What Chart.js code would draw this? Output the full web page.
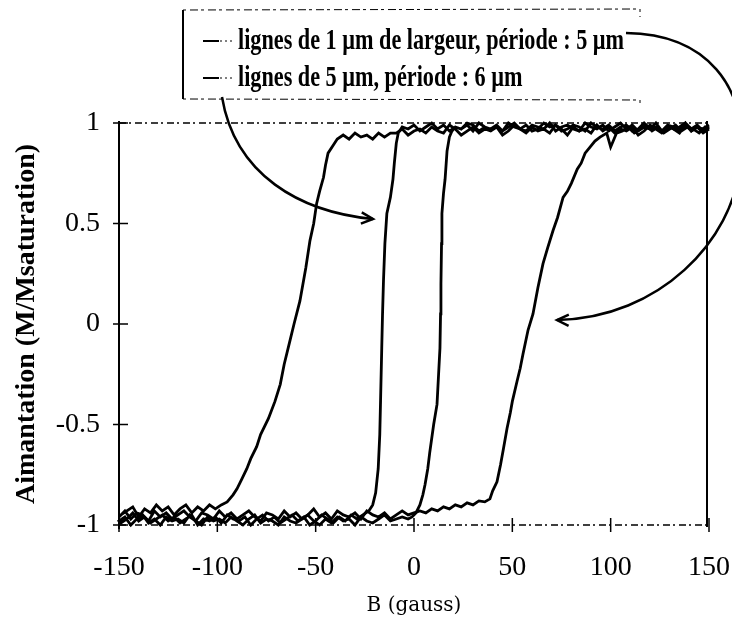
<!DOCTYPE html>
<html lang="fr">
<head>
  <meta charset="UTF-8">
  <title>Aimantation</title>
  <style>
    body { margin: 0; padding: 0; background: #fff; }
    #wrap { width: 732px; height: 632px; }
  </style>
  <script src="https://cdn.jsdelivr.net/npm/chart.js"></script>
</head>
<body>
  <div id="wrap">
    <canvas id="loopChart" width="732" height="632"></canvas>
  </div>
  <script>
    const seriesLabels = [
      'lignes de 1 µm de largeur, période : 5 µm',
      'lignes de 5 µm, période : 6 µm'
    ];
    const xTicks = [-150, -100, -50, 0, 50, 100, 150];
    const yTicks = [-1, -0.5, 0, 0.5, 1];

    // 1 µm lines: field going down (150 -> -150)
    const narrowDownB = [
      150,147,144,141,138,135,132,129,126,123,120,117,114,111,108,105,102,99,96,93,
      90,87,84,81,78,75,72,69,66,63,60,57,54,51,48,45,42,39,36,33,
      30,27,24,21,18,15,12,9,6,3,0,-3,-6,
      -8,-9,-10,-10.7,-12,-13.8,-14.8,-15.5,-16,-16.4,-17,-17.4,-18.2,-19.5,-21,-23,-26,
      -29,-32,-35,-38,-41,-44,-47,-50,-53,-56,-59,-62,-65,-68,-71,-74,-77,-80,-83,-86,
      -89,-92,-95,-98,-101,-104,-107,-110,-113,-116,-119,-122,-125,-128,-131,-134,-137,-140,-143,-146,-149
    ];
    const narrowDownM = [
      0.98,0.96,0.99,0.97,1.0,0.96,0.98,0.99,0.96,0.98,0.97,1.0,0.97,0.96,0.99,0.98,0.96,0.99,0.97,0.98,
      1.0,0.96,0.98,0.99,0.97,0.96,0.99,0.98,1.0,0.97,0.96,0.99,0.97,0.98,1.0,0.96,0.99,0.97,0.98,0.96,
      0.99,1.0,0.97,0.98,0.96,0.99,0.97,1.0,0.98,0.96,0.99,0.97,0.98,
      0.95,0.9,0.8,0.72,0.63,0.55,0.4,0.22,0.05,-0.12,-0.38,-0.55,-0.72,-0.84,-0.9,-0.93,-0.95,
      -0.97,-0.95,-0.98,-0.96,-0.99,-0.97,-0.95,-0.98,-1.0,-0.96,-0.98,-0.95,-0.97,-0.99,-0.96,-0.98,-0.95,-0.97,-1.0,-0.96,
      -0.98,-0.97,-0.95,-0.99,-0.96,-0.98,-0.97,-1.0,-0.95,-0.97,-0.99,-0.96,-0.98,-0.95,-0.97,-0.99,-0.96,-0.98,-0.94,-0.97,-0.99
    ];
    // 1 µm lines: field going up (-150 -> 150)
    const narrowUpB = [
      -150,-147,-144,-141,-138,-135,-132,-129,-126,-123,-120,-117,-114,-111,-108,-105,-102,-99,-96,-93,
      -90,-87,-84,-81,-78,-75,-72,-69,-66,-63,-60,-57,-54,-51,-48,-45,-42,-39,-36,-33,
      -30,-27,-24,-21,-18,-15,-12,-9,-6,-3,
      -1,1,3,4.5,5.6,7,8,10,11.7,12.5,13.2,13.5,13.7,14,14.2,15,15.8,16.8,18,19.3,21,
      24,27,30,33,36,39,42,45,48,51,54,57,60,63,66,69,72,75,78,81,
      84,87,90,93,96,99,102,105,108,111,114,117,120,123,126,129,132,135,138,141,144,147,150
    ];
    const narrowUpM = [
      -0.98,-0.96,-1.0,-0.97,-0.95,-0.99,-0.97,-1.0,-0.96,-0.98,-0.97,-0.99,-0.95,-0.98,-1.0,-0.96,-0.98,-0.97,-0.99,-0.96,
      -0.98,-1.0,-0.97,-0.95,-0.99,-0.97,-0.98,-1.0,-0.96,-0.98,-0.99,-0.97,-0.95,-0.98,-1.0,-0.97,-0.99,-0.96,-0.98,-0.97,
      -1.0,-0.96,-0.98,-0.99,-0.97,-0.95,-0.98,-0.97,-0.96,-0.97,
      -0.96,-0.94,-0.9,-0.85,-0.8,-0.72,-0.64,-0.5,-0.4,-0.25,-0.12,0.05,0.2,0.4,0.55,0.65,0.72,0.86,0.93,0.96,0.98,
      0.97,0.99,0.96,1.0,0.98,0.97,0.99,0.96,0.98,1.0,0.97,0.96,0.99,0.98,0.97,1.0,0.96,0.98,0.99,0.97,
      0.96,1.0,0.98,0.97,0.99,0.96,0.98,1.0,0.97,0.99,0.96,0.98,0.97,1.0,0.96,0.99,0.97,0.98,1.0,0.96,0.98,0.97,0.99
    ];
    // 5 µm lines: field going down
    const wideDownB = [
      150,147,144,141,138,135,132,129,126,123,120,117,114,111,108,105,102,99,96,93,
      90,87,84,81,78,75,72,69,66,63,60,57,54,51,48,45,42,39,36,33,
      30,27,24,21,18,15,12,9,6,3,0,-3,-6,-9,
      -12,-15,-18,-21,-24,-27,-30,-33,-36,-39,-41,-43.7,-45,-46,-48,-49.5,-51,-52.9,-55,-58,
      -61,-63,-66,-68,-70.7,-74,-78,-80,-83,-85,-87.5,-90,-92,-95,-98,
      -101,-104,-107,-110,-113,-116,-119,-122,-125,-128,-131,-134,-137,-140,-143,-146,-149
    ];
    const wideDownM = [
      0.97,0.95,0.98,0.96,0.99,0.95,0.97,0.98,0.95,0.97,0.99,0.96,0.94,0.98,0.96,0.97,0.95,0.98,0.96,0.99,
      0.95,0.97,0.96,0.98,0.94,0.97,0.99,0.95,0.97,0.96,0.98,0.95,0.97,0.99,0.96,0.94,0.98,0.96,0.97,0.95,
      0.98,0.96,0.94,0.97,0.99,0.95,0.96,0.98,0.95,0.97,0.96,0.94,0.97,0.95,
      0.95,0.93,0.95,0.92,0.94,0.93,0.95,0.92,0.94,0.92,0.89,0.85,0.79,0.73,0.66,0.6,0.5,0.415,0.28,0.115,
      0,-0.08,-0.2,-0.3,-0.385,-0.47,-0.55,-0.61,-0.67,-0.72,-0.77,-0.82,-0.85,-0.885,-0.9,
      -0.92,-0.9,-0.93,-0.91,-0.94,-0.9,-0.92,-0.95,-0.91,-0.93,-0.9,-0.94,-0.92,-0.96,-0.91,-0.93,-0.95
    ];
    // 5 µm lines: field going up
    const wideUpB = [
      -150,-147,-144,-141,-138,-135,-132,-129,-126,-123,-120,-117,-114,-111,-108,-105,-102,-99,-96,-93,
      -90,-87,-84,-81,-78,-75,-72,-69,-66,-63,-60,-57,-54,-51,-48,-45,-42,-39,-36,-33,
      -30,-27,-24,-21,-18,-15,-12,-9,-6,-3,0,
      3,6,9,12,15,18,21,24,27,30,33,36,38.6,40,42.2,44,45.5,47.3,49,50,
      52.4,54,55.4,58,60.5,63,65.6,68,70.7,73,75.8,78,80,83,85,87,89.5,92,94.6,98,100,103,
      106,109,112,115,118,121,124,127,130,133,136,139,142,145,148,150
    ];
    const wideUpM = [
      -0.96,-0.93,-0.97,-0.94,-0.95,-0.98,-0.93,-0.96,-0.94,-0.97,-0.95,-0.93,-0.96,-0.98,-0.94,-0.95,-0.97,-0.93,-0.96,-0.94,
      -0.97,-0.95,-0.93,-0.96,-0.98,-0.94,-0.95,-0.97,-0.93,-0.96,-0.94,-0.97,-0.95,-0.92,-0.96,-0.94,-0.97,-0.93,-0.95,-0.96,
      -0.94,-0.97,-0.93,-0.95,-0.96,-0.94,-0.97,-0.95,-0.93,-0.95,-0.94,
      -0.93,-0.94,-0.92,-0.93,-0.91,-0.92,-0.9,-0.91,-0.89,-0.9,-0.88,-0.885,-0.87,-0.83,-0.785,-0.7,-0.62,-0.52,-0.44,-0.385,
      -0.285,-0.22,-0.15,-0.03,0.05,0.18,0.3,0.38,0.465,0.53,0.63,0.66,0.7,0.77,0.8,0.85,0.88,0.91,0.93,0.95,0.88,0.95,
      0.96,0.98,0.95,0.97,0.99,0.96,0.98,0.95,0.97,0.99,0.96,0.98,0.97,0.95,0.98,0.97
    ];

    function toPoints(bs, ms) {
      const n = Math.min(bs.length, ms.length);
      const pts = [];
      for (let i = 0; i < n; i++) pts.push({ x: bs[i], y: ms[i] });
      return pts;
    }

    const serif = '"Liberation Serif", "Times New Roman", serif';

    // frame, tick crosses, legend box and hand-drawn arrows
    const decor = {
      id: 'decor',
      afterDraw(chart) {
        const { ctx, chartArea: a, scales: { x, y } } = chart;
        ctx.save();
        ctx.strokeStyle = '#000';
        ctx.fillStyle = '#000';

        // left and right axes, solid
        ctx.lineWidth = 2;
        ctx.beginPath();
        ctx.moveTo(a.left, a.top - 2); ctx.lineTo(a.left, a.bottom + 4);
        ctx.moveTo(a.right - 2, a.top - 2); ctx.lineTo(a.right - 2, a.bottom + 2);
        ctx.stroke();
        // top and bottom, broken lines
        ctx.lineWidth = 1.5;
        ctx.setLineDash([7, 3, 2, 4]);
        ctx.beginPath();
        ctx.moveTo(a.left, a.top); ctx.lineTo(a.right, a.top);
        ctx.moveTo(a.left, a.bottom); ctx.lineTo(a.right, a.bottom);
        ctx.stroke();
        ctx.setLineDash([]);

        // tick crosses
        ctx.lineWidth = 1.5;
        ctx.beginPath();
        xTicks.forEach(v => {
          const px = x.getPixelForValue(v);
          ctx.moveTo(px, a.bottom - 7); ctx.lineTo(px, a.bottom + 7);
        });
        yTicks.forEach(v => {
          const py = y.getPixelForValue(v);
          ctx.moveTo(a.left - 6, py); ctx.lineTo(a.left + 9, py);
        });
        ctx.stroke();

        // legend box
        ctx.lineWidth = 1;
        ctx.setLineDash([3, 4, 8, 3]);
        ctx.beginPath();
        ctx.moveTo(183, 10); ctx.lineTo(640, 9);
        ctx.moveTo(183, 99); ctx.lineTo(640, 100);
        ctx.moveTo(640, 9); ctx.lineTo(640, 17);
        ctx.moveTo(640, 100); ctx.lineTo(640, 105);
        ctx.stroke();
        ctx.setLineDash([]);
        ctx.lineWidth = 2;
        ctx.beginPath();
        ctx.moveTo(183, 10); ctx.lineTo(183, 99);
        ctx.stroke();

        const rows = [41, 78];
        rows.forEach((ry, i) => {
          ctx.lineWidth = 2;
          ctx.beginPath();
          ctx.moveTo(203, ry); ctx.lineTo(219, ry);
          ctx.stroke();
          ctx.lineWidth = 1;
          ctx.setLineDash([2, 3]);
          ctx.beginPath();
          ctx.moveTo(220, ry); ctx.lineTo(235, ry);
          ctx.stroke();
          ctx.setLineDash([]);
          ctx.save();
          ctx.translate(238, ry + 8);
          ctx.scale(0.74, 1);
          ctx.font = 'bold 30px ' + serif;
          ctx.textBaseline = 'alphabetic';
          ctx.fillText(seriesLabels[i], 0, 0);
          ctx.restore();
        });

        // arrows
        ctx.lineWidth = 2.5;
        ctx.beginPath();
        ctx.moveTo(222, 97);
        ctx.bezierCurveTo(235, 175, 300, 212, 373, 219);
        ctx.stroke();
        arrowHead(ctx, 373, 219, 0.08);

        ctx.beginPath();
        ctx.moveTo(626, 33);
        ctx.bezierCurveTo(705, 34, 750, 85, 740, 165);
        ctx.bezierCurveTo(733, 240, 660, 318, 557, 320);
        ctx.stroke();
        arrowHead(ctx, 557, 320, Math.PI + 0.02);

        ctx.restore();
      }
    };

    function arrowHead(ctx, tx, ty, ang) {
      const len = 13, spread = 0.45;
      ctx.beginPath();
      ctx.moveTo(tx - len * Math.cos(ang - spread), ty - len * Math.sin(ang - spread));
      ctx.lineTo(tx, ty);
      ctx.lineTo(tx - len * Math.cos(ang + spread), ty - len * Math.sin(ang + spread));
      ctx.stroke();
    }

    const lineStyle = {
      showLine: true,
      borderColor: '#000',
      backgroundColor: '#000',
      borderWidth: 2.8,
      pointRadius: 0,
      tension: 0,
      clip: false
    };

    new Chart(document.getElementById('loopChart').getContext('2d'), {
      type: 'scatter',
      data: {
        datasets: [
          Object.assign({ label: seriesLabels[0], data: toPoints(narrowDownB.concat(narrowUpB), narrowDownM.concat(narrowUpM)) }, lineStyle),
          Object.assign({ label: seriesLabels[1], data: toPoints(wideDownB.concat(wideUpB), wideDownM.concat(wideUpM)) }, lineStyle)
        ]
      },
      options: {
        responsive: false,
        animation: false,
        layout: { padding: { top: 123, right: 0, bottom: 0, left: 0 } },
        plugins: {
          legend: { display: false },
          tooltip: { enabled: false }
        },
        scales: {
          x: {
            type: 'linear',
            min: -150, max: 150,
            afterBuildTicks(s) { s.ticks = xTicks.map(v => ({ value: v })); },
            afterFit(s) { s.height = 107; s.paddingLeft = 0; s.paddingRight = 23; },
            grid: { display: false, drawTicks: false },
            border: { display: false },
            ticks: { color: '#000', padding: 26, font: { family: serif, size: 28 }, callback: v => String(v) },
            title: {
              display: true, text: 'B (gauss)', color: '#000',
              font: { family: '"DejaVu Serif", serif', size: 20 },
              padding: { top: 0, bottom: 14 }
            }
          },
          y: {
            min: -1, max: 1,
            afterBuildTicks(s) { s.ticks = yTicks.map(v => ({ value: v })); },
            afterFit(s) { s.width = 119; },
            grid: { display: false, drawTicks: false },
            border: { display: false },
            ticks: { color: '#000', padding: 19, font: { family: serif, size: 28 }, callback: v => String(v) },
            title: {
              display: true, text: 'Aimantation (M/Msaturation)', color: '#000',
              font: { family: serif, size: 28, weight: 'bold' },
              padding: { top: 10, bottom: 0 }
            }
          }
        }
      },
      plugins: [decor]
    });
  </script>
</body>
</html>
